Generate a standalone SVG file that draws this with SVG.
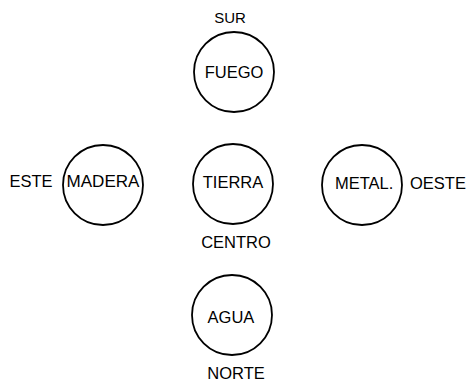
<svg xmlns="http://www.w3.org/2000/svg" width="472" height="381" viewBox="0 0 472 381">
<style>
.n{fill:#fff;stroke:#000;stroke-width:1.8}
.t{font-family:"Liberation Sans",Arial,sans-serif;font-size:16.5px;fill:#000;text-anchor:middle}
.s{text-anchor:start}
</style>
<rect width="472" height="381" fill="#fff"/>
<g id="connectors"></g>
<g id="fuego"><circle class="n" cx="234" cy="72" r="40"/><text class="t" x="234" y="78">FUEGO</text></g>
<g id="madera"><circle class="n" cx="103" cy="185" r="40"/><text class="t" x="103" y="187" textLength="73" lengthAdjust="spacingAndGlyphs">MADERA</text></g>
<g id="tierra"><circle class="n" cx="233" cy="184" r="40"/><text class="t" x="233" y="188">TIERRA</text></g>
<g id="metal"><circle class="n" cx="362" cy="185" r="40"/><text class="t s" x="335" y="189">METAL.</text></g>
<g id="agua"><circle class="n" cx="232" cy="315" r="40"/><text class="t" x="231" y="323">AGUA</text></g>
<g id="labels">
<text class="t" x="230" y="23" style="font-size:15px">SUR</text>
<text class="t" x="31" y="187">ESTE</text>
<text class="t s" x="410" y="189">OESTE</text>
<text class="t" x="236" y="248">CENTRO</text>
<text class="t" x="236" y="379">NORTE</text>
</g>
</svg>
